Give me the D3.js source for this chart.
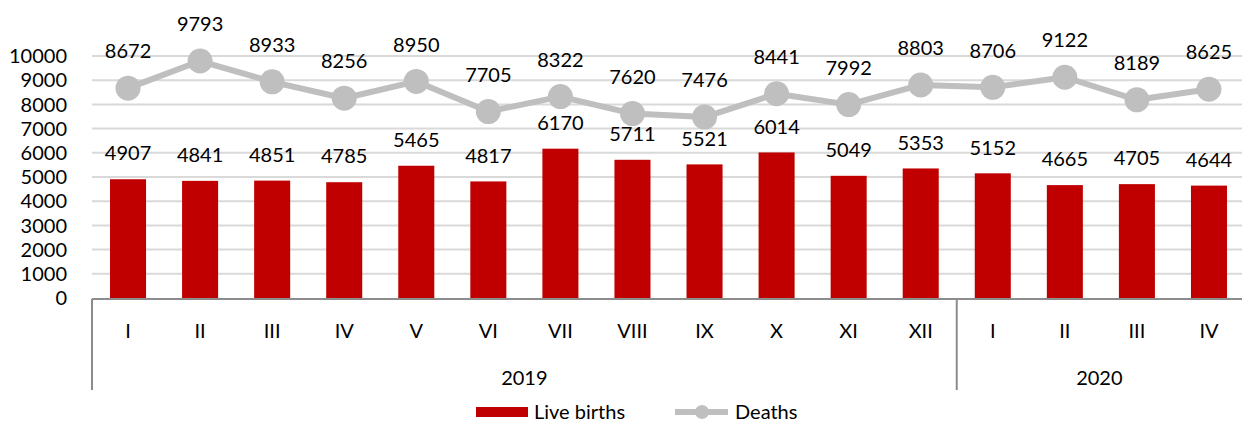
<!DOCTYPE html>
<html>
<head>
<meta charset="utf-8">
<script src="https://cdn.jsdelivr.net/npm/d3@7"></script>
<style>
  html, body { margin: 0; padding: 0; background: #fff; }
  svg { display: block; font-family: Lato, "Open Sans", sans-serif; }
</style>
</head>
<body>
<div id="chart"></div>
<script>
// Monthly values, Jan 2019 - Apr 2020
const months = ["I", "II", "III", "IV", "V", "VI", "VII", "VIII", "IX", "X", "XI", "XII", "I", "II", "III", "IV"];
const years = [{ name: "2019", count: 12 }, { name: "2020", count: 4 }];
const liveBirths = [4907, 4841, 4851, 4785, 5465, 4817, 6170, 5711, 5521, 6014, 5049, 5353, 5152, 4665, 4705, 4644];
const deaths = [8672, 9793, 8933, 8256, 8950, 7705, 8322, 7620, 7476, 8441, 7992, 8803, 8706, 9122, 8189, 8625];
const yTicks = [0, 1000, 2000, 3000, 4000, 5000, 6000, 7000, 8000, 9000, 10000];

const width = 1242, height = 423;
const plotLeft = 92, plotRight = 1245, plotTop = 56, plotBottom = 298;

const red = "#C00000", grey = "#BFBFBF", axisGrey = "#8C8C8C", gridGrey = "#D9D9D9";

const svg = d3.select("#chart").append("svg")
  .attr("width", width)
  .attr("height", height);

const x = d3.scaleBand()
  .domain(d3.range(months.length))
  .range([plotLeft, plotRight])
  .padding(0);

const y = d3.scaleLinear().domain([0, 10000]).range([plotBottom, plotTop]);

const cx = i => x(i) + x.bandwidth() / 2;

// gridlines
svg.append("g")
  .selectAll("line")
  .data(yTicks.filter(d => d > 0))
  .join("line")
  .attr("x1", plotLeft).attr("x2", plotRight)
  .attr("y1", d => y(d)).attr("y2", d => y(d))
  .attr("stroke", gridGrey)
  .attr("stroke-width", 2);

// y tick labels
svg.append("g")
  .selectAll("text")
  .data(yTicks)
  .join("text")
  .attr("x", 67)
  .attr("y", d => y(d))
  .attr("dy", "0.36em")
  .attr("text-anchor", "end")
  .attr("font-size", 20)
  .attr("fill", "#000")
  .text(d => d);

// bars
const barW = x.bandwidth() * 0.5;
svg.append("g")
  .selectAll("rect")
  .data(liveBirths)
  .join("rect")
  .attr("x", (d, i) => cx(i) - barW / 2)
  .attr("y", d => y(d))
  .attr("width", barW)
  .attr("height", d => y(0) - y(d))
  .attr("fill", red);

// bar labels
svg.append("g")
  .selectAll("text")
  .data(liveBirths)
  .join("text")
  .attr("x", (d, i) => cx(i))
  .attr("y", d => y(d) - 26)
  .attr("dy", "0.36em")
  .attr("text-anchor", "middle")
  .attr("font-size", 20)
  .text(d => d);

// category axis
const axis = svg.append("g").attr("stroke", axisGrey).attr("stroke-width", 2);
axis.append("line")
  .attr("x1", plotLeft).attr("x2", plotRight)
  .attr("y1", plotBottom + 1).attr("y2", plotBottom + 1);

let start = 0;
const yearPos = years.map(yr => {
  const p = { name: yr.name, x0: x(start), x1: x(start) + yr.count * x.bandwidth() };
  start += yr.count;
  return p;
});

// year separators
axis.selectAll("line.sep")
  .data(yearPos.slice(0, -1).map(p => p.x1).concat([plotLeft]))
  .join("line")
  .attr("class", "sep")
  .attr("x1", d => d).attr("x2", d => d)
  .attr("y1", plotBottom + 1).attr("y2", 390);

svg.append("g")
  .selectAll("text")
  .data(months)
  .join("text")
  .attr("x", (d, i) => cx(i))
  .attr("y", 331)
  .attr("dy", "0.36em")
  .attr("text-anchor", "middle")
  .attr("font-size", 20)
  .text(d => d);

svg.append("g")
  .selectAll("text")
  .data(yearPos)
  .join("text")
  .attr("x", d => (d.x0 + Math.min(d.x1, width)) / 2)
  .attr("y", 378)
  .attr("dy", "0.36em")
  .attr("text-anchor", "middle")
  .attr("font-size", 20)
  .text(d => d.name);

// deaths line
const line = d3.line()
  .x((d, i) => cx(i))
  .y(d => y(d));

svg.append("path")
  .datum(deaths)
  .attr("d", line)
  .attr("fill", "none")
  .attr("stroke", grey)
  .attr("stroke-width", 6)
  .attr("stroke-linejoin", "round");

svg.append("g")
  .selectAll("circle")
  .data(deaths)
  .join("circle")
  .attr("cx", (d, i) => cx(i))
  .attr("cy", d => y(d))
  .attr("r", 12.5)
  .attr("fill", grey);

svg.append("g")
  .selectAll("text")
  .data(deaths)
  .join("text")
  .attr("x", (d, i) => cx(i))
  .attr("y", d => y(d) - 37)
  .attr("dy", "0.36em")
  .attr("text-anchor", "middle")
  .attr("font-size", 20)
  .text(d => d);

// legend
const legendY = 412;
const legend = svg.append("g");
legend.append("rect")
  .attr("x", 476).attr("y", legendY - 5)
  .attr("width", 52).attr("height", 10)
  .attr("fill", red);
legend.append("text")
  .attr("x", 534).attr("y", legendY)
  .attr("dy", "0.34em")
  .attr("font-size", 20)
  .text("Live births");
legend.append("line")
  .attr("x1", 675).attr("x2", 728)
  .attr("y1", legendY).attr("y2", legendY)
  .attr("stroke", grey)
  .attr("stroke-width", 6);
legend.append("circle")
  .attr("cx", 702).attr("cy", legendY)
  .attr("r", 7)
  .attr("fill", grey);
legend.append("text")
  .attr("x", 735).attr("y", legendY)
  .attr("dy", "0.34em")
  .attr("font-size", 20)
  .text("Deaths");
</script>
</body>
</html>
